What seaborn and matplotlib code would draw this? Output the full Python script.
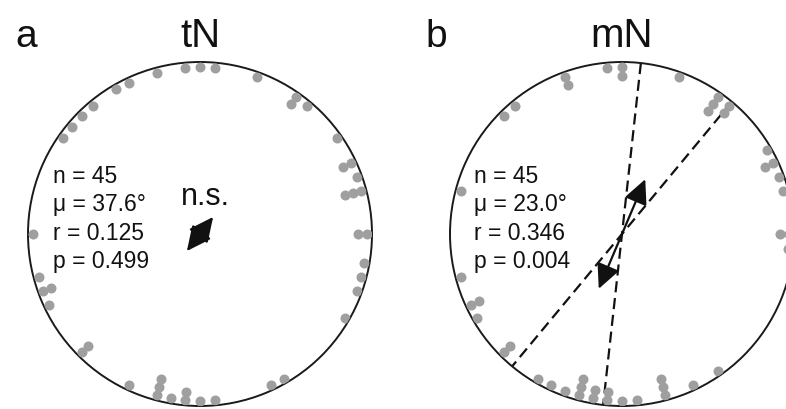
import numpy as np
import pandas as pd
import matplotlib
matplotlib.use("Agg")
import matplotlib.pyplot as plt
import seaborn as sns

# Orientation angles (degrees, clockwise from north), binned to 5 degrees
tn_angles = [305, 310, 315, 320, 330, 335, 345, 355, 0, 5,
             20, 35, 35, 40, 55, 65, 65, 70, 75, 75,
             75, 270, 90, 90, 100, 105, 110, 120, 255, 250,
             250, 245, 225, 225, 205, 195, 195, 195, 190, 185,
             185, 180, 175, 155, 150]
mn_angles = [355, 0, 0, 340, 340, 320, 315, 20, 35, 35,
             35, 40, 40, 60, 65, 65, 70, 75, 285, 90,
             90, 95, 255, 245, 245, 240, 225, 225, 210, 205,
             200, 195, 195, 195, 190, 190, 185, 185, 180, 175,
             165, 165, 165, 155, 145]

panel_letters = ["a", "b"]
panel_titles = ["tN", "mN"]
stat_n = [45, 45]
stat_mu = [37.6, 23.0]
stat_r = [0.125, 0.346]
stat_p = [0.499, 0.004]
significance = ["n.s.", None]
# confidence limits of the mean axis (None when not significant)
ci_limits = [None, (6.3, 39.7)]

sns.set_style("white")
plt.rcParams["font.family"] = ["Liberation Sans", "DejaVu Sans"]

W, H = 786, 410
fig = plt.figure(figsize=(W / 100, H / 100), dpi=100)

R_PX = 172
centers = [(200, 235), (622, 235)]
DOT_R = 0.971
DOT_STEP = 0.0506
DOT_COLOR = "#9f9f9f"
INK = "#111111"


def stacked(angles):
    seen = {}
    rows = []
    for a in angles:
        k = seen.get(a, 0)
        seen[a] = k + 1
        rows.append({"theta": np.deg2rad(a), "radius": DOT_R - k * DOT_STEP})
    return pd.DataFrame(rows)


for i, angles in enumerate([tn_angles, mn_angles]):
    cx, cy = centers[i]
    rect = [(cx - R_PX) / W, (H - cy - R_PX) / H, 2 * R_PX / W, 2 * R_PX / H]
    ax = fig.add_axes(rect, projection="polar")
    ax.set_theta_zero_location("N")
    ax.set_theta_direction(-1)
    ax.set_ylim(0, 1)
    ax.grid(False)
    ax.set_xticks([])
    ax.set_yticks([])
    ax.spines["polar"].set_linewidth(1.4)
    ax.spines["polar"].set_color("#1a1a1a")
    ax.set_facecolor("white")

    # confidence interval of the mean axis
    if ci_limits[i] is not None:
        for lim in ci_limits[i]:
            t = np.deg2rad(lim)
            ax.plot([t, t, t + np.pi], [1, 0, 1], color=INK, lw=1.6,
                    linestyle=(0, (5, 2.6)), zorder=2)

    df = stacked(angles)
    sns.scatterplot(data=df, x="theta", y="radius", ax=ax, color=DOT_COLOR,
                    s=52, linewidth=0, legend=False, zorder=3)
    ax.set_xlabel("")
    ax.set_ylabel("")
    ax.set_ylim(0, 1)

    # bidirectional mean-axis arrow, length = r
    mu = np.deg2rad(stat_mu[i])
    for t in (mu, mu + np.pi):
        ax.annotate("", xy=(t, stat_r[i]), xytext=(0, 0),
                    arrowprops=dict(arrowstyle="-|>,head_length=1.0,head_width=0.48",
                                    mutation_scale=15, color=INK, lw=1.6,
                                    shrinkA=0, shrinkB=0),
                    zorder=4)

    # statistics block
    tx = (53 if i == 0 else 474) - (cx - R_PX)
    lines = [f"n = {stat_n[i]}", f"\u03bc = {stat_mu[i]:.1f}\u00b0",
             f"r = {stat_r[i]:.3f}", f"p = {stat_p[i]:.3f}"]
    for j, s in enumerate(lines):
        by = 183 + j * 28.3
        ax.text(tx / (2 * R_PX), (cy + R_PX - by) / (2 * R_PX), s,
                transform=ax.transAxes, fontsize=16.5, ha="left", va="baseline",
                color=INK)
    if significance[i]:
        ax.text((205 - (cx - R_PX)) / (2 * R_PX), (cy + R_PX - 205) / (2 * R_PX),
                significance[i], transform=ax.transAxes, fontsize=22,
                ha="center", va="baseline", color=INK)

    # panel letter and title
    lx = 15 if i == 0 else 425
    fig.text(lx / W, 1 - 47 / H, panel_letters[i], fontsize=28,
             ha="left", va="baseline", color=INK)
    fig.text(cx / W, 1 - 47 / H, panel_titles[i], fontsize=29,
             ha="center", va="baseline", color=INK)

fig.savefig("out.png", dpi=100)
